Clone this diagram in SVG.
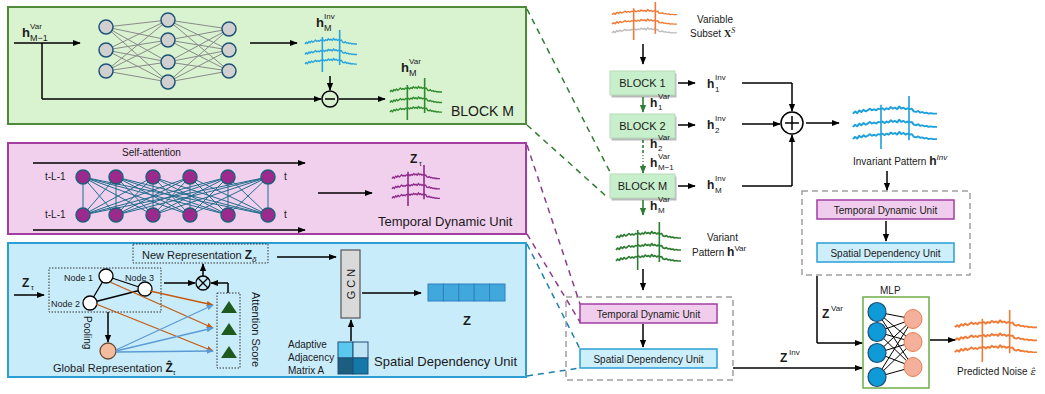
<svg xmlns="http://www.w3.org/2000/svg" xmlns:xlink="http://www.w3.org/1999/xlink" width="1045" height="394" viewBox="0 0 1045 394">
<style>
  text { font-family: "Liberation Sans", Arial, sans-serif; fill: #1a1a1a; }
  .b { font-weight: bold; }
  .t9 { font-size: 9px; }
  .t10 { font-size: 10px; }
  .t11 { font-size: 11px; }
  .t13 { font-size: 13px; }
  .t14 { font-size: 14px; }
  .sup { font-size: 8px; }
  .ln { fill: none; stroke: #000; stroke-width: 1.5; }
  .arr { fill: none; stroke: #000; stroke-width: 1.5; marker-end: url(#ah); }
  .garr { fill: none; stroke: #2e7d32; stroke-width: 1.6; marker-end: url(#ahg); }
  .oarr { fill: none; stroke: #c55a11; stroke-width: 1.3; marker-end: url(#aho); }
  .barr { fill: none; stroke: #5b9bd5; stroke-width: 1.3; marker-end: url(#ahb); }
  .dgray { fill: none; stroke: #a0a0a0; stroke-width: 1.5; stroke-dasharray: 6 4; }
  .dot { fill: none; stroke: #333; stroke-width: 1; stroke-dasharray: 1.5 1.5; }
  .block { fill: #c8efcb; stroke: #b5dcb8; stroke-width: 1; }
  .shadow { fill: #b9b9b9; }
  .tdu { fill: #f0cdec; stroke: #a33ea1; stroke-width: 1.5; }
  .sdu { fill: #cdeefb; stroke: #2b9fd4; stroke-width: 1.5; }
  .wv { fill: none; stroke: currentColor; stroke-width: 1.6; stroke-linejoin: round; vector-effect: non-scaling-stroke; }
</style>
<defs>
  <marker id="ah" viewBox="0 0 10 10" refX="9" refY="5" markerWidth="8" markerHeight="8" markerUnits="userSpaceOnUse" orient="auto"><path d="M0,1 L10,5 L0,9 z" fill="#000"/></marker>
  <marker id="ahg" viewBox="0 0 10 10" refX="9" refY="5" markerWidth="8" markerHeight="8" markerUnits="userSpaceOnUse" orient="auto"><path d="M0,1 L10,5 L0,9 z" fill="#2e7d32"/></marker>
  <marker id="aho" viewBox="0 0 10 10" refX="9" refY="5" markerWidth="7" markerHeight="7" markerUnits="userSpaceOnUse" orient="auto"><path d="M0,1 L10,5 L0,9 z" fill="#c55a11"/></marker>
  <marker id="ahb" viewBox="0 0 10 10" refX="9" refY="5" markerWidth="7" markerHeight="7" markerUnits="userSpaceOnUse" orient="auto"><path d="M0,1 L10,5 L0,9 z" fill="#5b9bd5"/></marker>
  <!-- one noisy signal trace, baseline at y=0, 60 units long -->
  <path id="trace" d="M0,2 L1.5,0 L3,1.5 L4.5,-1 L6,0.5 L7.5,-1.5 L9,0 L10.5,-1 L12,-2.5 L13.5,-1 L15,-2 L16.5,-1 L18,-2.5 L19.5,-2 L21,-3 L22.5,-1.5 L24,-3 L25.5,-2 L27,-4 L28.5,-2.5 L30,-3.5 L31.5,-2 L33,-4.5 L34.5,-2.5 L36,-3.5 L37.5,-2 L39,-3 L40.5,-2 L42,-2.5 L43.5,0 L45,0.5 L46.5,-0.5 L48,1 L49.5,0.5 L51,1.5 L52.5,1 L54,2 L55.5,1.5 L57,2 L60,2"/>
  <symbol id="wave" viewBox="0 0 60 48" preserveAspectRatio="none" overflow="visible">
    <use href="#trace" y="14" class="wv"/>
    <use href="#trace" y="26" class="wv"/>
    <use href="#trace" y="37" class="wv"/>
    <path class="wv" d="M20,8 V48 M40,0 V40"/>
  </symbol>
  <symbol id="waveS" viewBox="0 0 60 48" preserveAspectRatio="none" overflow="visible">
    <use href="#trace" y="14" class="wv"/>
    <use href="#trace" y="26" class="wv"/>
    <use href="#trace" y="37" class="wv" style="stroke:#bdbdbd"/>
    <path class="wv" d="M20,8 V48 M40,0 V40"/>
  </symbol>
</defs>

<!-- ===== BLOCK M detail ===== -->
<g id="panel-block">
  <rect x="8" y="7" width="518" height="117" fill="#d9f2d0" stroke="#4e8a3a" stroke-width="2"/>
  <text x="22" y="37" class="b" font-size="13">h</text>
  <text x="30" y="29" class="sup">Var</text>
  <text x="30" y="41" class="t9">M−1</text>
  <g stroke="#8a8a8a" stroke-width="1">
    <path d="M106,27 L168,20 M106,27 L168,40 M106,27 L168,62 M106,27 L168,82 M106,50 L168,20 M106,50 L168,40 M106,50 L168,62 M106,50 L168,82 M106,71 L168,20 M106,71 L168,40 M106,71 L168,62 M106,71 L168,82"/>
    <path d="M229,29 L168,20 M229,29 L168,40 M229,29 L168,62 M229,29 L168,82 M229,50 L168,20 M229,50 L168,40 M229,50 L168,62 M229,50 L168,82 M229,71 L168,20 M229,71 L168,40 M229,71 L168,62 M229,71 L168,82"/>
  </g>
  <g fill="#d0d0d0" stroke="#1f5478" stroke-width="1.5">
    <circle cx="106" cy="27" r="7"/><circle cx="106" cy="50" r="7"/><circle cx="106" cy="71" r="7"/>
    <circle cx="168" cy="20" r="7"/><circle cx="168" cy="40" r="7"/><circle cx="168" cy="62" r="7"/><circle cx="168" cy="82" r="7"/>
    <circle cx="229" cy="29" r="7"/><circle cx="229" cy="50" r="7"/><circle cx="229" cy="71" r="7"/>
  </g>
  <text x="316" y="27" class="b" font-size="13">h</text>
  <text x="324" y="19" class="sup">Inv</text>
  <text x="324" y="31" class="t9">M</text>
  <use href="#wave" x="305" y="30" width="52" height="42" color="#29a3dd"/>
  <circle cx="330" cy="99" r="8" fill="none" stroke="#000" stroke-width="1.5"/>
  <path d="M325,99 H335" stroke="#000" stroke-width="1.5"/>
  <text x="401" y="72" class="b" font-size="13">h</text>
  <text x="409" y="64" class="sup">Var</text>
  <text x="409" y="76" class="t9">M</text>
  <use href="#wave" x="390" y="78" width="52" height="42" color="#2e8b2e"/>
  <text x="451" y="116" class="t14">BLOCK M</text>
</g>

<!-- ===== Temporal Dynamic Unit detail ===== -->
<g id="panel-temporal">
  <rect x="8" y="143" width="518" height="91" fill="#f1d0ee" stroke="#a33ea1" stroke-width="2"/>
  <text x="122" y="156" class="t10">Self-attention</text>
  <g stroke="#1f6e8c" stroke-width="1">
    <path d="M83,177 L83,215 M83,177 L116,215 M83,177 L153,215 M83,177 L190,215 M83,177 L228,215 M83,177 L268,215
             M116,177 L83,215 M116,177 L116,215 M116,177 L153,215 M116,177 L190,215 M116,177 L228,215 M116,177 L268,215
             M153,177 L83,215 M153,177 L116,215 M153,177 L153,215 M153,177 L190,215 M153,177 L228,215 M153,177 L268,215
             M190,177 L83,215 M190,177 L116,215 M190,177 L153,215 M190,177 L190,215 M190,177 L228,215 M190,177 L268,215
             M228,177 L83,215 M228,177 L116,215 M228,177 L153,215 M228,177 L190,215 M228,177 L228,215 M228,177 L268,215
             M268,177 L83,215 M268,177 L116,215 M268,177 L153,215 M268,177 L190,215 M268,177 L228,215 M268,177 L268,215"/>
  </g>
  <g fill="#9c2a8c" stroke="#1f5f7a" stroke-width="1.5">
    <circle cx="83" cy="177" r="7"/><circle cx="116" cy="177" r="7"/><circle cx="153" cy="177" r="7"/>
    <circle cx="190" cy="177" r="7"/><circle cx="228" cy="177" r="7"/><circle cx="268" cy="177" r="7"/>
    <circle cx="83" cy="215" r="7"/><circle cx="116" cy="215" r="7"/><circle cx="153" cy="215" r="7"/>
    <circle cx="190" cy="215" r="7"/><circle cx="228" cy="215" r="7"/><circle cx="268" cy="215" r="7"/>
  </g>
  <text x="45" y="180" class="t10">t-L-1</text>
  <text x="45" y="218" class="t10">t-L-1</text>
  <text x="284" y="180" class="t10">t</text>
  <text x="284" y="218" class="t10">t</text>
  <text x="410" y="163" class="b" font-size="12">Z</text>
  <text x="419" y="166" font-size="7">τ</text>
  <use href="#wave" x="392" y="165" width="48" height="41" color="#8e2a8a"/>
  <text x="378" y="226" class="t13">Temporal Dynamic Unit</text>
</g>

<!-- ===== Spatial Dependency Unit detail ===== -->
<g id="panel-spatial">
  <rect x="8" y="243" width="518" height="134" fill="#c9ecfa" stroke="#2b9fd4" stroke-width="2"/>
  <text x="22" y="287" class="b" font-size="12">Z</text>
  <text x="31" y="290" font-size="7">τ</text>
  <rect x="49" y="268" width="112" height="44" class="dot"/>
  <g stroke="#000" stroke-width="1.3">
    <path d="M106,276 L145,289 M106,276 L90,303 M90,303 L145,289"/>
  </g>
  <g fill="#fff" stroke="#000" stroke-width="1.3">
    <circle cx="106" cy="276" r="7"/>
    <circle cx="145" cy="289" r="7"/>
    <circle cx="90" cy="303" r="7"/>
  </g>
  <text x="64" y="281" class="t9">Node 1</text>
  <text x="125" y="281" class="t9">Node 3</text>
  <text x="51" y="307" class="t9">Node 2</text>
  <text x="84" y="316" class="t10" transform="rotate(90 84 316)">Pooling</text>
  <circle cx="108" cy="351" r="8" fill="#f4bb9c" stroke="#6b4a3a" stroke-width="1.3"/>
  <text x="53" y="372" class="t11">Global Representation <tspan class="b" font-size="12">Ẑ</tspan><tspan font-size="7" dy="3">τ</tspan></text>
  <rect x="133" y="244" width="135" height="19" class="dot"/>
  <text x="142" y="259" class="t11">New Representation <tspan class="b" font-size="12">Z</tspan><tspan font-size="8" font-style="italic" dy="3">δ</tspan></text>
  <circle cx="203" cy="283" r="7" fill="none" stroke="#000" stroke-width="1.3"/>
  <path d="M198,278 L208,288 M208,278 L198,288" stroke="#000" stroke-width="1.3"/>
  <rect x="217" y="293" width="23" height="75" class="dot"/>
  <g fill="#1e5a1e">
    <path d="M221,313 L229,301 L237,313 z"/>
    <path d="M221,335 L229,323 L237,335 z"/>
    <path d="M221,358 L229,346 L237,358 z"/>
  </g>
  <text x="252" y="292" class="t11" transform="rotate(90 252 292)">Attention Score</text>
  <rect x="341" y="250" width="19" height="68" fill="#d9d9d9" stroke="#555" stroke-width="1.2"/>
  <text x="355" y="284" class="t11" text-anchor="middle" transform="rotate(-90 355 284)">G C N</text>
  <g stroke="#3180c4" stroke-width="1">
    <rect x="428" y="284" width="15.4" height="17" fill="#41a8dc"/>
    <rect x="443.4" y="284" width="15.4" height="17" fill="#41a8dc"/>
    <rect x="458.8" y="284" width="15.4" height="17" fill="#41a8dc"/>
    <rect x="474.2" y="284" width="15.4" height="17" fill="#41a8dc"/>
    <rect x="489.6" y="284" width="15.4" height="17" fill="#41a8dc"/>
  </g>
  <text x="463" y="325" class="b" font-size="13">Z</text>
  <g stroke="#1f4e79" stroke-width="1">
    <rect x="338" y="342" width="15" height="16" fill="#5bc8f0"/>
    <rect x="353" y="342" width="15" height="16" fill="#bfe4f4"/>
    <rect x="338" y="358" width="15" height="16" fill="#1b5e80"/>
    <rect x="353" y="358" width="15" height="16" fill="#1479a8"/>
  </g>
  <text x="288" y="348" class="t10">Adaptive</text>
  <text x="288" y="361" class="t10">Adjacency</text>
  <text x="288" y="374" class="t10">Matrix A</text>
  <text x="374" y="366" class="t13">Spatial Dependency Unit</text>
</g>

<!-- ===== Input and block stack ===== -->
<g id="input">
  <use href="#waveS" x="612" y="2" width="65" height="38" color="#f07a36"/>
  <text x="697" y="23" class="t10">Variable</text>
  <text x="690" y="37" class="t10">Subset <tspan font-family="Liberation Serif, serif" font-weight="bold">X</tspan><tspan font-family="Liberation Serif, serif" font-style="italic" font-size="8" dy="-4">S</tspan></text>
</g>
<g id="block1">
  <rect x="611.5" y="73.5" width="65" height="24" class="shadow"/>
  <rect x="610" y="71" width="65" height="24" class="block"/>
  <text x="642.5" y="87" class="t11" text-anchor="middle">BLOCK 1</text>
</g>
<g id="block2">
  <rect x="611.5" y="116.5" width="65" height="24" class="shadow"/>
  <rect x="610" y="114" width="65" height="24" class="block"/>
  <text x="642.5" y="130" class="t11" text-anchor="middle">BLOCK 2</text>
</g>
<g id="blockM">
  <rect x="611.5" y="176.5" width="65" height="24" class="shadow"/>
  <rect x="610" y="174" width="65" height="24" class="block"/>
  <text x="642.5" y="190" class="t11" text-anchor="middle">BLOCK M</text>
</g>
<g id="hvar-labels">
  <text x="650" y="107" class="b" font-size="12">h</text><text x="658" y="99" class="sup">Var</text><text x="658" y="110" class="sup">1</text>
  <text x="650" y="148" class="b" font-size="12">h</text><text x="658" y="140" class="sup">Var</text><text x="658" y="151" class="sup">2</text>
  <text x="650" y="167" class="b" font-size="12">h</text><text x="658" y="159" class="sup">Var</text><text x="658" y="170" class="sup">M−1</text>
  <text x="650" y="210" class="b" font-size="12">h</text><text x="658" y="202" class="sup">Var</text><text x="658" y="213" class="sup">M</text>
</g>
<g id="hinv-labels">
  <text x="707" y="88" class="b" font-size="12">h</text><text x="715" y="80" class="sup">Inv</text><text x="715" y="92" class="sup">1</text>
  <text x="707" y="129" class="b" font-size="12">h</text><text x="715" y="121" class="sup">Inv</text><text x="715" y="133" class="sup">2</text>
  <text x="707" y="189" class="b" font-size="12">h</text><text x="715" y="181" class="sup">Inv</text><text x="715" y="193" class="sup">M</text>
</g>
<g id="sum">
  <circle cx="792" cy="123" r="11" fill="#fff" stroke="#000" stroke-width="1.5"/>
  <path d="M785,123 H799 M792,116 V130" stroke="#000" stroke-width="1.5"/>
</g>

<!-- ===== Invariant branch ===== -->
<g id="invariant-pattern">
  <use href="#wave" x="853" y="96" width="84" height="53" color="#1ea0dc"/>
  <text x="853" y="165" class="t10">Invariant Pattern <tspan class="b" font-size="12">h</tspan><tspan font-size="8" font-style="italic" dy="-5">Inv</tspan></text>
</g>
<g id="invariant-units">
  <rect x="802" y="191" width="168" height="84" class="dgray"/>
  <rect x="817" y="200" width="137" height="19" class="tdu"/>
  <text x="885.5" y="214" class="t10" text-anchor="middle">Temporal Dynamic Unit</text>
  <rect x="817" y="243" width="137" height="19" class="sdu"/>
  <text x="885.5" y="257" class="t10" text-anchor="middle">Spatial Dependency Unit</text>
</g>

<!-- ===== Variant branch ===== -->
<g id="variant-pattern">
  <use href="#wave" x="616" y="222" width="65" height="48" color="#2e7d32"/>
  <text x="707" y="241" class="t10">Variant</text>
  <text x="692" y="256" class="t10">Pattern  <tspan class="b" font-size="12">h</tspan><tspan font-size="8" dy="-5">Var</tspan></text>
</g>
<g id="variant-units">
  <rect x="566" y="297" width="167" height="83" class="dgray"/>
  <rect x="580" y="304" width="137" height="19" class="tdu"/>
  <text x="648.5" y="318" class="t10" text-anchor="middle">Temporal Dynamic Unit</text>
  <rect x="580" y="349" width="137" height="19" class="sdu"/>
  <text x="648.5" y="363" class="t10" text-anchor="middle">Spatial Dependency Unit</text>
</g>

<!-- ===== Output head ===== -->
<g id="mlp">
  <text x="880" y="294" class="t10">MLP</text>
  <rect x="863" y="297" width="66" height="91" fill="#fff" stroke="#70ad47" stroke-width="1.5"/>
  <g stroke="#000" stroke-width="1">
    <path d="M877,312 L913,319 M877,312 L913,342 M877,312 L913,367 M877,332 L913,319 M877,332 L913,342 M877,332 L913,367 M877,353 L913,319 M877,353 L913,342 M877,353 L913,367 M877,377 L913,319 M877,377 L913,342 M877,377 L913,367"/>
  </g>
  <g fill="#0f9bd7" stroke="#1f4e79" stroke-width="1.2">
    <ellipse cx="877" cy="312" rx="9" ry="9.5"/><ellipse cx="877" cy="332" rx="9" ry="9.5"/>
    <ellipse cx="877" cy="353" rx="9" ry="9.5"/><ellipse cx="877" cy="377" rx="9" ry="9.5"/>
  </g>
  <g fill="#f4b09a" stroke="#e5804f" stroke-width="1">
    <ellipse cx="913" cy="319" rx="9" ry="9.5"/><ellipse cx="913" cy="342" rx="9" ry="9.5"/><ellipse cx="913" cy="367" rx="9" ry="9.5"/>
  </g>
</g>
<g id="prediction">
  <use href="#wave" x="955" y="310" width="82" height="52" color="#f07a36"/>
  <text x="957" y="375" class="t10">Predicted Noise <tspan font-family="DejaVu Serif, serif" font-style="italic" font-size="10">ε̂</tspan></text>
</g>
<g id="z-labels">
  <text x="822" y="318" class="b" font-size="12">Z</text><text x="831" y="311" class="sup">Var</text>
  <text x="780" y="362" class="b" font-size="12">Z</text><text x="789" y="355" class="sup">Inv</text>
</g>

<!-- ===== Connectors ===== -->
<g id="connectors">
  <!-- block M internals -->
  <path class="arr" d="M14,43 H80"/>
  <path class="ln" d="M42,43 V99"/>
  <path class="arr" d="M42,99 H321"/>
  <path class="arr" d="M250,43 H297"/>
  <path class="arr" d="M330,76 V90"/>
  <path class="arr" d="M339,99 H385"/>
  <!-- temporal unit internals -->
  <path class="arr" d="M33,163 H305"/>
  <path class="arr" d="M33,230 H305"/>
  <path class="arr" d="M318,193 H372"/>
  <!-- spatial unit internals -->
  <path class="arr" d="M14,295 H44"/>
  <path class="arr" d="M164,283 H195"/>
  <path class="arr" d="M203,276 V264"/>
  <path class="ln" d="M228,293 V283"/>
  <path class="arr" d="M228,283 H211"/>
  <path class="arr" d="M108,312 V342"/>
  <path class="oarr" d="M150,291 L213,305"/>
  <path class="oarr" d="M110,282 L213,328"/>
  <path class="oarr" d="M96,304 L213,351"/>
  <path class="barr" d="M116,350 L213,305"/>
  <path class="barr" d="M116,351 L213,328"/>
  <path class="barr" d="M116,352 L213,351"/>
  <path class="arr" d="M277,257 H336"/>
  <path class="arr" d="M351,341 V320"/>
  <path class="arr" d="M362,293 H421"/>
  <!-- zoom-out guides -->
  <g fill="none" stroke-width="1.5" stroke-dasharray="6 5">
    <path d="M527,9 L611,174" stroke="#2e7d32"/>
    <path d="M527,125 L606,196" stroke="#2e7d32"/>
    <path d="M527,145 L580,304" stroke="#8e3a8e"/>
    <path d="M527,234 L580,322" stroke="#8e3a8e"/>
    <path d="M527,244 L580,349" stroke="#2080b0"/>
    <path d="M527,376 L580,368" stroke="#2080b0"/>
  </g>
  <!-- block stack -->
  <path class="arr" d="M643,44 V64"/>
  <path class="garr" d="M643,97 V112"/>
  <path d="M643,140 V154" stroke="#2e7d32" stroke-width="1.6" stroke-dasharray="3 2"/>
  <path d="M643,155 V165" stroke="#2e7d32" stroke-width="1.2" stroke-dasharray="1 2"/>
  <path class="garr" d="M643,165 V173"/>
  <path class="garr" d="M643,200 V215"/>
  <path class="arr" d="M678,83 H695"/>
  <path class="arr" d="M678,125 H695"/>
  <path class="arr" d="M678,186 H695"/>
  <path class="ln" d="M742,83 H792"/>
  <path class="arr" d="M792,83 V111"/>
  <path class="arr" d="M742,124 H780"/>
  <path class="ln" d="M742,186 H792"/>
  <path class="arr" d="M792,186 V135"/>
  <path class="arr" d="M806,123 H839"/>
  <!-- branches -->
  <path class="arr" d="M887,171 V190"/>
  <path class="arr" d="M886,221 V241"/>
  <path class="arr" d="M643,269 V290"/>
  <path class="arr" d="M643,324 V347"/>
  <path class="ln" d="M817,276 V343"/>
  <path class="arr" d="M817,343 H862"/>
  <path class="arr" d="M733,368 H862"/>
  <path class="arr" d="M930,340 H955"/>
</g>
</svg>
